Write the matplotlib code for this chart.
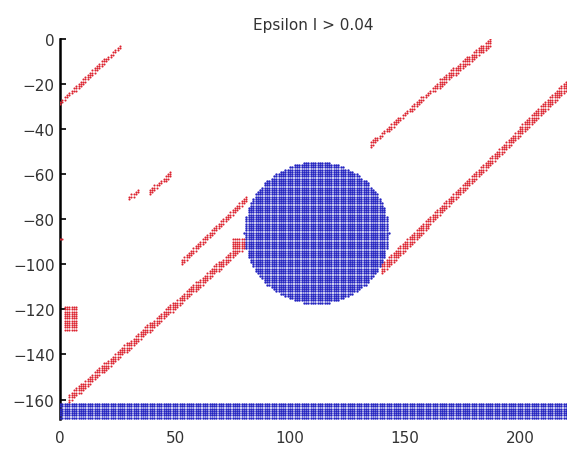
"""
Epsilon I > 0.04 -- grid points flagged by the threshold.
Red: diagonal streaks, blue: disc + bottom band.
"""
import matplotlib
matplotlib.use("Agg")
import matplotlib.pyplot as plt
import numpy as np

# red streaks: start x, start y, end x, end y, vertical thickness
STREAK_X0 = [0.0, 135.0, 165.0, 140.0, 4.0, 53.0, 29.5, 39.0]
STREAK_Y0 = [-28.5, -47.0, -20.0, -102.0, -159.5, -99.0, -71.0, -68.0]
STREAK_X1 = [26.0, 165.0, 187.0, 220.0, 79.0, 81.0, 34.0, 48.0]
STREAK_Y1 = [-3.5, -20.0, -1.5, -21.0, -92.0, -71.0, -67.5, -60.0]
STREAK_W  = [2.5, 2.5, 4.0, 4.5, 4.0, 3.5, 2.0, 2.5]

# red rectangular blobs: x min, x max, y min, y max
BLOB_X0 = [2.0, 75.0, 0.0]
BLOB_X1 = [7.0, 80.0, 1.0]
BLOB_Y0 = [-129.0, -93.0, -89.0]
BLOB_Y1 = [-119.0, -89.0, -89.0]

# blue disc and band
DISC_CX, DISC_CY, DISC_R = 111.5, -86.0, 31.5
BAND_Y0, BAND_Y1 = -168.0, -162.0

XTICKS = [0, 50, 100, 150, 200]
YTICKS = [0, -20, -40, -60, -80, -100, -120, -140, -160]

XMAX, YMIN = 220.4, -168.6

gx, gy = np.meshgrid(np.arange(0, 221), np.arange(-168, 1))
gx = gx.ravel().astype(float)
gy = gy.ravel().astype(float)

red = np.zeros(gx.shape, dtype=bool)
for x0, y0, x1, y1, w in zip(STREAK_X0, STREAK_Y0, STREAK_X1, STREAK_Y1, STREAK_W):
    yl = y0 + (gx - x0) * (y1 - y0) / (x1 - x0)
    red |= (gx >= x0) & (gx <= x1) & (np.abs(gy - yl) <= w / 2)
for x0, x1, y0, y1 in zip(BLOB_X0, BLOB_X1, BLOB_Y0, BLOB_Y1):
    red |= (gx >= x0) & (gx <= x1) & (gy >= y0) & (gy <= y1)

disc = (gx - DISC_CX) ** 2 + (gy - DISC_CY) ** 2 <= DISC_R ** 2
band = (gy >= BAND_Y0) & (gy <= BAND_Y1)
blue = disc | band
red &= ~blue

fig = plt.figure(figsize=(5.67, 4.52), dpi=100)
ax = fig.add_axes([0.106, 0.071, 0.894, 0.841])

ax.plot(gx[red], gy[red], "o", ms=1.5, mew=0, color="#dc2430", zorder=3)
ax.plot(gx[blue], gy[blue], "o", ms=1.7, mew=0, color="#2323c0", zorder=3)

ax.set_xlim(0, XMAX)
ax.set_ylim(YMIN, 0)
ax.set_xticks(XTICKS)
ax.set_yticks(YTICKS)
ax.tick_params(axis="y", direction="in", length=4, width=1.2, labelsize=11,
               labelcolor="#333333", pad=4)
ax.tick_params(axis="x", length=0, labelsize=11, labelcolor="#333333", pad=8)
for s in ("top", "right", "bottom"):
    ax.spines[s].set_visible(False)
ax.spines["left"].set_linewidth(1.8)
ax.set_title("Epsilon I > 0.04", fontsize=11, color="#333333", pad=7)

fig.savefig("out.png", dpi=100)
